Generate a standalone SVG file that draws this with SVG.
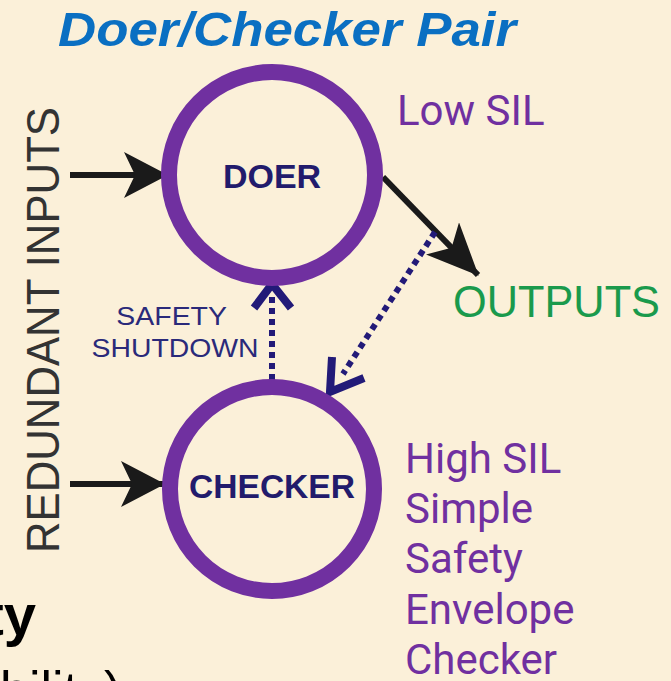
<svg xmlns="http://www.w3.org/2000/svg" width="671" height="681" viewBox="0 0 671 681">
<defs>
<style>
.bg{fill:#fbf0d9}
.ring{fill:none;stroke:#7030a0;stroke-width:16}
.node-label{font-family:"Liberation Sans",Arial,sans-serif;font-weight:bold;font-size:34px;fill:#221b6c;text-anchor:middle}
.purple{font-family:Roboto,"Liberation Sans",sans-serif;font-size:42px;fill:#7030a0}
.solid{fill:none;stroke:#1a1a1a;stroke-width:6}
.dotted{fill:none;stroke:#221a78;stroke-width:6;stroke-dasharray:6 5}
.chev{fill:none;stroke:#221a78;stroke-width:8;stroke-linejoin:miter}
</style>
<marker id="headIn" markerUnits="userSpaceOnUse" viewBox="0 0 44 46" markerWidth="44" markerHeight="46" refX="43" refY="23" orient="auto">
<path d="M44,23 L0,0 L11,23 L0,46 Z" fill="#1a1a1a"/>
</marker>
<marker id="headOut" markerUnits="userSpaceOnUse" viewBox="0 0 52 46" markerWidth="52" markerHeight="46" refX="51" refY="23" orient="auto">
<path d="M52,23 L0,0 L13,23 L0,46 Z" fill="#1a1a1a"/>
</marker>
</defs>
<rect class="bg" x="0" y="0" width="671" height="681"/>

<text x="58" y="46" font-family="'Liberation Sans',Arial,sans-serif" font-weight="bold" font-style="italic" font-size="48" fill="#0a6fc2" textLength="458" lengthAdjust="spacingAndGlyphs">Doer/Checker Pair</text>

<text transform="translate(59,553) rotate(-90)" font-family="'Liberation Sans',Arial,sans-serif" font-size="46" fill="#333333" textLength="446" lengthAdjust="spacingAndGlyphs">REDUNDANT INPUTS</text>

<g id="connectors">
<line class="solid" x1="70" y1="175" x2="167" y2="175" marker-end="url(#headIn)"/>
<line class="solid" x1="70" y1="484" x2="164" y2="484" marker-end="url(#headIn)"/>
<line class="solid" x1="383" y1="177" x2="478" y2="275" marker-end="url(#headOut)"/>
<line class="dotted" x1="435" y1="232" x2="343" y2="374"/>
<polyline class="chev" points="332,357 330,392 364,378"/>
<line class="dotted" x1="272" y1="380" x2="272" y2="292"/>
<polyline class="chev" points="254,308 272,284 291,308"/>
</g>

<g id="doer">
<circle class="ring" cx="272" cy="175" r="103"/>
<text class="node-label" x="272" y="188">DOER</text>
</g>

<g id="checker">
<circle class="ring" cx="272" cy="489" r="102"/>
<text class="node-label" x="272" y="498" textLength="166" lengthAdjust="spacingAndGlyphs">CHECKER</text>
</g>

<g id="safety-shutdown-label">
<text font-family="'Liberation Sans',Arial,sans-serif" font-size="26" fill="#2a2a7a" text-anchor="middle">
<tspan x="175" y="325" textLength="110" lengthAdjust="spacingAndGlyphs">SAFETY</tspan>
<tspan x="175" y="357" textLength="167" lengthAdjust="spacingAndGlyphs">SHUTDOWN</tspan>
</text>
</g>

<g id="outputs">
<text x="453" y="317" font-family="'Liberation Sans',Arial,sans-serif" font-size="44" fill="#1a9a4c" textLength="207" lengthAdjust="spacingAndGlyphs">OUTPUTS</text>
</g>

<text class="purple" x="397" y="125">Low SIL</text>
<text class="purple">
<tspan x="405" y="473">High SIL</tspan>
<tspan x="405" y="523">Simple</tspan>
<tspan x="405" y="573">Safety</tspan>
<tspan x="405" y="624">Envelope</tspan>
<tspan x="405" y="674">Checker</tspan>
</text>

<text x="36" y="635" font-family="'Liberation Sans',Arial,sans-serif" font-weight="bold" font-size="58" fill="#000000" text-anchor="end">ty</text>
<text x="0" y="708" font-family="'Liberation Sans',Arial,sans-serif" font-size="52" fill="#000000">bility)</text>
</svg>
